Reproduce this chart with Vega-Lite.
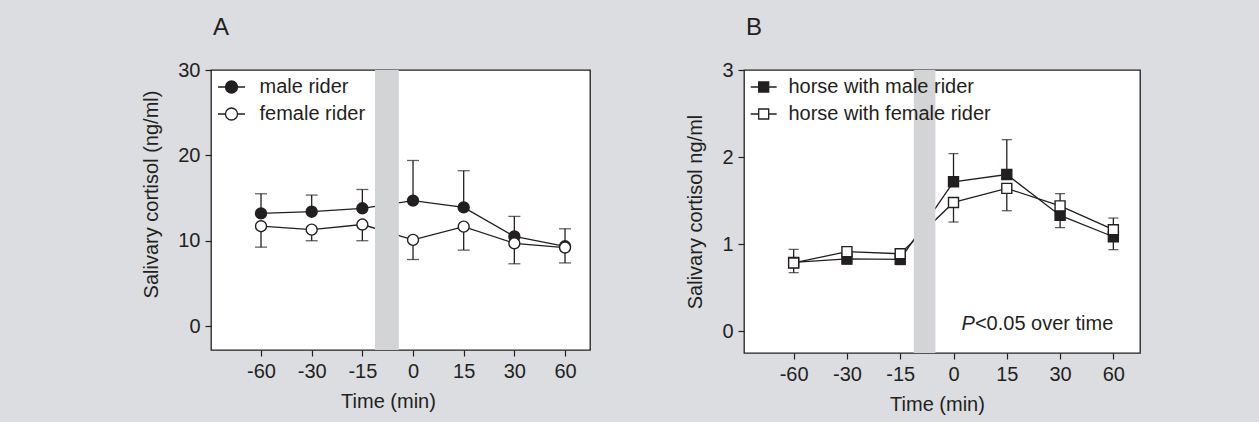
{
  "$schema": "https://vega.github.io/schema/vega-lite/v6.json",
  "background": "#dcdde0",
  "padding": {"left": 141, "top": 15, "right": 120, "bottom": 8},
  "spacing": 94,
  "datasets": {
    "cortA": [
      {"series": "male rider", "time": -60, "i": 0, "v": 13.2, "err": 15.5},
      {"series": "male rider", "time": -30, "i": 1, "v": 13.4, "err": 15.35},
      {"series": "male rider", "time": -15, "i": 2, "v": 13.8, "err": 16.0},
      {"series": "male rider", "time": 0, "i": 3, "v": 14.7, "err": 19.4},
      {"series": "male rider", "time": 15, "i": 4, "v": 13.9, "err": 18.2},
      {"series": "male rider", "time": 30, "i": 5, "v": 10.5, "err": 12.85},
      {"series": "male rider", "time": 60, "i": 6, "v": 9.35, "err": 11.4},
      {"series": "female rider", "time": -60, "i": 0, "v": 11.7, "err": 9.25},
      {"series": "female rider", "time": -30, "i": 1, "v": 11.3, "err": 10.0},
      {"series": "female rider", "time": -15, "i": 2, "v": 11.9, "err": 10.0},
      {"series": "female rider", "time": 0, "i": 3, "v": 10.1, "err": 7.8},
      {"series": "female rider", "time": 15, "i": 4, "v": 11.65, "err": 8.9},
      {"series": "female rider", "time": 30, "i": 5, "v": 9.7, "err": 7.3},
      {"series": "female rider", "time": 60, "i": 6, "v": 9.2, "err": 7.4}
    ],
    "cortB": [
      {"series": "horse with male rider", "time": -60, "i": 0, "v": 0.79, "err": 0.94},
      {"series": "horse with male rider", "time": -30, "i": 1, "v": 0.83, "err": 0.773},
      {"series": "horse with male rider", "time": -15, "i": 2, "v": 0.825, "err": 0.765},
      {"series": "horse with male rider", "time": 0, "i": 3, "v": 1.716, "err": 2.04},
      {"series": "horse with male rider", "time": 15, "i": 4, "v": 1.8, "err": 2.2},
      {"series": "horse with male rider", "time": 30, "i": 5, "v": 1.33, "err": 1.19},
      {"series": "horse with male rider", "time": 60, "i": 6, "v": 1.085, "err": 0.937},
      {"series": "horse with female rider", "time": -60, "i": 0, "v": 0.784, "err": 0.673},
      {"series": "horse with female rider", "time": -30, "i": 1, "v": 0.914, "err": 0.93},
      {"series": "horse with female rider", "time": -15, "i": 2, "v": 0.89, "err": 0.91},
      {"series": "horse with female rider", "time": 0, "i": 3, "v": 1.479, "err": 1.254},
      {"series": "horse with female rider", "time": 15, "i": 4, "v": 1.64, "err": 1.384},
      {"series": "horse with female rider", "time": 30, "i": 5, "v": 1.44, "err": 1.58},
      {"series": "horse with female rider", "time": 60, "i": 6, "v": 1.166, "err": 1.3}
    ]
  },
  "config": {
    "font": "Liberation Sans, Arial, sans-serif",
    "view": {"stroke": "#231f20", "strokeWidth": 1.3, "fill": "white"},
    "axis": {
      "domain": false, "grid": false, "ticks": true,
      "tickColor": "#231f20", "tickSize": 6, "tickWidth": 1.2,
      "labelFontSize": 20, "labelColor": "#231f20", "labelPadding": 5,
      "titleFontSize": 20, "titleFontWeight": "normal", "titleColor": "#231f20",
      "labelFont": "Liberation Sans, Arial, sans-serif",
      "titleFont": "Liberation Sans, Arial, sans-serif"
    },
    "axisX": {"titlePadding": 10},
    "axisY": {"titlePadding": 16},
    "title": {"fontSize": 24, "fontWeight": "normal", "anchor": "start", "frame": "group", "color": "#231f20", "offset": 20, "font": "Liberation Sans, Arial, sans-serif"},
    "legend": {
      "orient": "top-left", "offset": 7, "padding": 0, "title": null,
      "labelFontSize": 20, "labelColor": "#231f20", "labelLimit": 400,
      "labelFont": "Liberation Sans, Arial, sans-serif",
      "symbolStrokeColor": "#231f20", "symbolStrokeWidth": 1.3, "rowPadding": 7
    }
  },
  "resolve": {"scale": {"fill": "independent"}, "legend": {"fill": "independent"}},
  "hconcat": [
    {
      "width": 379, "height": 280,
      "title": {"text": "A", "dx": 2},
      "layer": [
        {
          "data": {"name": "cortA"},
          "mark": {"type": "line", "color": "#231f20", "strokeWidth": 1.3},
          "encoding": {
            "x": {"field": "i", "type": "quantitative", "scale": {"domain": [-0.987, 6.493], "nice": false, "zero": false},
                  "axis": {"values": [0, 1, 2, 3, 4, 5, 6], "labelExpr": "['-60','-30','-15','0','15','30','60'][datum.value]", "title": "Time (min)", "titleX": 177}},
            "y": {"field": "v", "type": "quantitative", "scale": {"domain": [-2.8, 30], "nice": false, "zero": false},
                  "axis": {"values": [0, 10, 20, 30], "format": "d", "title": "Salivary cortisol (ng/ml)", "titleY": 124}},
            "detail": {"field": "series"}
          }
        },
        {
          "data": {"values": [{}]},
          "mark": {"type": "rect", "color": "#d3d4d6"},
          "encoding": {"x": {"datum": 2.25, "type": "quantitative"}, "x2": {"datum": 2.72}}
        },
        {
          "data": {"name": "cortA"},
          "mark": {"type": "rule", "color": "#231f20", "strokeWidth": 1.3},
          "encoding": {
            "x": {"field": "i", "type": "quantitative"},
            "y": {"field": "v", "type": "quantitative"},
            "y2": {"field": "err"}
          }
        },
        {
          "data": {"name": "cortA"},
          "mark": {"type": "tick", "orient": "horizontal", "color": "#231f20", "size": 12, "thickness": 1.3},
          "encoding": {
            "x": {"field": "i", "type": "quantitative"},
            "y": {"field": "err", "type": "quantitative"}
          }
        },
        {
          "data": {"name": "cortA"},
          "mark": {"type": "point", "shape": "circle", "filled": true, "size": 120, "stroke": "#231f20", "strokeWidth": 1.4, "opacity": 1},
          "encoding": {
            "x": {"field": "i", "type": "quantitative"},
            "y": {"field": "v", "type": "quantitative"},
            "fill": {"field": "series", "type": "nominal",
                     "scale": {"domain": ["male rider", "female rider"], "range": ["#231f20", "#ffffff"]},
                     "legend": {"symbolType": "M-2.25,0H-1M1,0H2.25M1,0A1,1,0,1,1,-1,0A1,1,0,1,1,1,0Z", "symbolSize": 144, "symbolOffset": 3.5, "labelOffset": 18}}
          }
        }
      ]
    },
    {
      "width": 396, "height": 283,
      "title": {"text": "B", "dx": 2},
      "layer": [
        {
          "data": {"name": "cortB"},
          "mark": {"type": "line", "color": "#231f20", "strokeWidth": 1.3},
          "encoding": {
            "x": {"field": "i", "type": "quantitative", "scale": {"domain": [-0.932, 6.5], "nice": false, "zero": false},
                  "axis": {"values": [0, 1, 2, 3, 4, 5, 6], "labelExpr": "['-60','-30','-15','0','15','30','60'][datum.value]", "title": "Time (min)", "titleX": 193}},
            "y": {"field": "v", "type": "quantitative", "scale": {"domain": [-0.25, 3], "nice": false, "zero": false},
                  "axis": {"values": [0, 1, 2, 3], "format": "d", "title": "Salivary cortisol ng/ml"}},
            "detail": {"field": "series"}
          }
        },
        {
          "data": {"values": [{}]},
          "mark": {"type": "rect", "color": "#d3d4d6"},
          "encoding": {"x": {"datum": 2.255, "type": "quantitative"}, "x2": {"datum": 2.66}}
        },
        {
          "data": {"name": "cortB"},
          "mark": {"type": "rule", "color": "#231f20", "strokeWidth": 1.3},
          "encoding": {
            "x": {"field": "i", "type": "quantitative"},
            "y": {"field": "v", "type": "quantitative"},
            "y2": {"field": "err"}
          }
        },
        {
          "data": {"name": "cortB"},
          "mark": {"type": "tick", "orient": "horizontal", "color": "#231f20", "size": 10, "thickness": 1.3},
          "encoding": {
            "x": {"field": "i", "type": "quantitative"},
            "y": {"field": "err", "type": "quantitative"}
          }
        },
        {
          "data": {"name": "cortB"},
          "mark": {"type": "point", "shape": "square", "filled": true, "size": 100, "stroke": "#231f20", "strokeWidth": 1.4, "opacity": 1},
          "encoding": {
            "x": {"field": "i", "type": "quantitative"},
            "y": {"field": "v", "type": "quantitative"},
            "fill": {"field": "series", "type": "nominal",
                     "scale": {"domain": ["horse with male rider", "horse with female rider"], "range": ["#231f20", "#ffffff"]},
                     "legend": {"symbolType": "M-2.6,0H-1M1,0H2.6M-1,-1H1V1H-1Z", "symbolSize": 100, "symbolOffset": 2.7, "labelOffset": 14.7}}
          }
        },
        {
          "data": {"values": [{}]},
          "mark": {"type": "text", "text": "<0.05 over time", "align": "right", "baseline": "alphabetic", "dy": -1, "fontSize": 20, "color": "#231f20"},
          "encoding": {"x": {"datum": 6, "type": "quantitative"}, "y": {"datum": 0, "type": "quantitative"}}
        },
        {
          "data": {"values": [{}]},
          "mark": {"type": "text", "text": "P", "align": "right", "baseline": "alphabetic", "dy": -1, "dx": -138.4, "fontSize": 20, "fontStyle": "italic", "color": "#231f20"},
          "encoding": {"x": {"datum": 6, "type": "quantitative"}, "y": {"datum": 0, "type": "quantitative"}}
        }
      ]
    }
  ]
}
